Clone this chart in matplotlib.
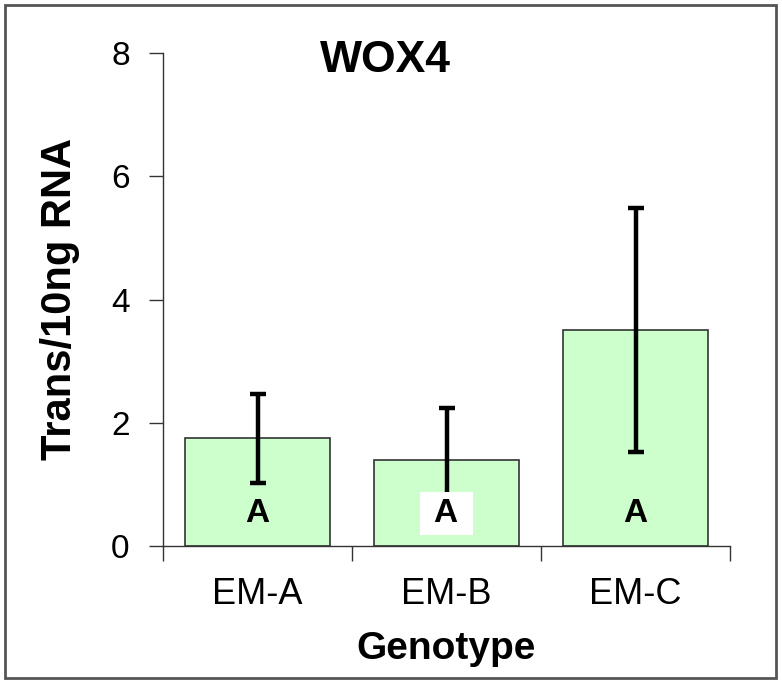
import matplotlib
matplotlib.use("Agg")
from matplotlib import pyplot as plt
from matplotlib.patches import Rectangle
import numpy as np

genotypes = ["EM-A", "EM-B", "EM-C"]
means = [1.75, 1.40, 3.50]
errors = [0.72, 0.84, 1.98]
letters = ["A", "A", "A"]
y_ticks = [0, 2, 4, 6, 8]

plt.rcParams["font.family"] = ["Liberation Sans", "DejaVu Sans"]

fig = plt.figure(figsize=(7.82, 6.85), dpi=100)
ax = fig.add_axes([163 / 782, 1 - 546 / 685, 567 / 782, 493 / 685])

x = np.arange(len(genotypes))
ax.bar(x, means, width=0.77, color="#ccffcc", edgecolor="#333333", linewidth=1.2, zorder=2)
ax.errorbar(x, means, yerr=errors, fmt="none", ecolor="black", elinewidth=3.2,
            capsize=6, capthick=3.2, zorder=3)

# significance letters; the middle one sits on a white box
for i, lab in enumerate(letters):
    if i == 1:
        ax.text(i, 0.39, " " + lab + " ", ha="center", va="baseline", fontsize=24,
                fontweight="bold", zorder=5,
                bbox=dict(boxstyle="square,pad=0.18", facecolor="white", edgecolor="none"))
    else:
        ax.text(i, 0.39, lab, ha="center", va="baseline", fontsize=24, fontweight="bold", zorder=5)

ax.set_xlim(-0.5, 2.5)
ax.set_ylim(0, 8)
ax.set_yticks(y_ticks)
ax.set_xticks(x)
ax.set_xticklabels(genotypes)
ax.set_xticks(np.arange(-0.5, 3, 1), minor=True)

ax.tick_params(axis="y", direction="out", length=10, width=1, color="#333333", labelsize=24, pad=14)
ax.tick_params(axis="x", which="major", length=0, labelsize=26, pad=22)
ax.tick_params(axis="x", which="minor", direction="out", length=11, width=1, color="#333333")

for s in ["top", "right"]:
    ax.spines[s].set_visible(False)
for s in ["left", "bottom"]:
    ax.spines[s].set_color("#333333")
    ax.spines[s].set_linewidth(1)

ax.set_ylabel("Trans/10ng RNA", fontsize=30, fontweight="bold", labelpad=22)
ax.set_xlabel("Genotype", fontsize=28, fontweight="bold", labelpad=14)
ax.text(0.393, 0.984, "WOX4", transform=ax.transAxes, ha="center", va="center",
        fontsize=32, fontweight="bold")

fig.patches.append(Rectangle((5 / 782, 1 - 678 / 685), 771 / 782, 673 / 685,
                             transform=fig.transFigure, fill=False,
                             edgecolor="#555555", linewidth=2))

plt.savefig("out.png", dpi=100)
